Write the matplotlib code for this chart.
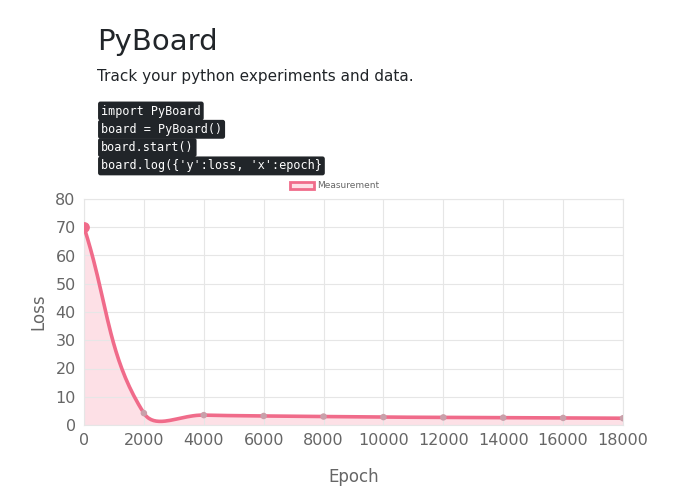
import numpy as np
import matplotlib
matplotlib.use('Agg')
import matplotlib.pyplot as plt

# data
epochs = [0, 2000, 4000, 6000, 8000, 10000, 12000, 14000, 16000, 18000]
loss = [70, 4.2, 3.5, 3.2, 3.0, 2.8, 2.7, 2.6, 2.5, 2.4]
x_ticks = list(range(0, 18001, 2000))
y_ticks = list(range(0, 81, 10))
code_lines = ["import PyBoard", "board = PyBoard()", "board.start()",
              "board.log({'y':loss, 'x':epoch}"]

LINE = '#f06b8a'
FILL = '#fde0e6'

fig = plt.figure(figsize=(6.95, 4.94), dpi=100)
W, H = 695, 494
ax = fig.add_axes([84 / W, 1 - 425 / H, (623 - 84) / W, (425 - 199) / H])


def bezier_curve(xs, ys, sx, sy, t=0.4, n=40):
    # Chart.js style spline, computed in pixel space
    px = np.array(xs, float) * sx
    py = np.array(ys, float) * sy
    pts = np.column_stack([px, py])
    cps = []
    for i in range(len(pts)):
        prev = pts[max(i - 1, 0)]
        nxt = pts[min(i + 1, len(pts) - 1)]
        cur = pts[i]
        d01 = np.hypot(*(cur - prev))
        d12 = np.hypot(*(nxt - cur))
        s = d01 + d12 if d01 + d12 > 0 else 1
        fa, fb = t * d01 / s, t * d12 / s
        cps.append((cur - fa * (nxt - prev), cur + fb * (nxt - prev)))
    out = []
    u = np.linspace(0, 1, n)[:, None]
    for i in range(len(pts) - 1):
        p0, p3 = pts[i], pts[i + 1]
        p1, p2 = cps[i][1], cps[i + 1][0]
        seg = ((1 - u) ** 3) * p0 + 3 * ((1 - u) ** 2) * u * p1 + 3 * (1 - u) * u ** 2 * p2 + u ** 3 * p3
        out.append(seg)
    seg = np.vstack(out)
    return seg[:, 0] / sx, seg[:, 1] / sy


cx, cy = bezier_curve(epochs, loss, 539 / 18000, 226 / 80)
ax.fill_between(cx, cy, 0, color=FILL, zorder=1)
ax.plot(cx, cy, color=LINE, lw=2.6, zorder=3, label='Measurement')
ax.scatter(epochs[1:], loss[1:], s=22, color='#c9a0aa', zorder=4, edgecolors='none')
ax.scatter(epochs[:1], loss[:1], s=45, color=LINE, zorder=5)

ax.set_xlim(0, 18000)
ax.set_ylim(0, 80)
ax.set_xticks(x_ticks)
ax.set_yticks(y_ticks)
ax.grid(color='#e6e6e6', lw=0.8)
for s in ax.spines.values():
    s.set_color('#e6e6e6')
ax.tick_params(colors='#666666', labelsize=11.5, length=0, pad=6)
for lab in ax.get_xticklabels() + ax.get_yticklabels():
    lab.set_color('#666666')
ax.set_xlabel('Epoch', color='#666666', fontsize=12, labelpad=14)
ax.set_ylabel('Loss', color='#666666', fontsize=12, labelpad=6)

# legend
import matplotlib.patches as mpatches
h = mpatches.Patch(facecolor=FILL, edgecolor=LINE, lw=2)
fig.legend([h], ['Measurement'], loc='center', bbox_to_anchor=(335 / W, 1 - 186 / H),
           frameon=False, fontsize=6.5, handlelength=2.6, handleheight=0.9,
           labelcolor='#666666', handletextpad=0.4)

# header
fig.text(97 / W, 1 - 42 / H, 'PyBoard', fontsize=21, color='#212529', va='center')
fig.text(97 / W, 1 - 77 / H, 'Track your python experiments and data.', fontsize=11,
         color='#212529', va='center')
for i, line in enumerate(code_lines):
    y = 111 + i * 18.3
    fig.text(101 / W, 1 - y / H, line, fontsize=8.5, family='DejaVu Sans Mono', color='white',
             va='center', bbox=dict(boxstyle='round,pad=0.25,rounding_size=0.2', fc='#212529', ec='none'))

fig.savefig('out.png', dpi=100, facecolor='white')
